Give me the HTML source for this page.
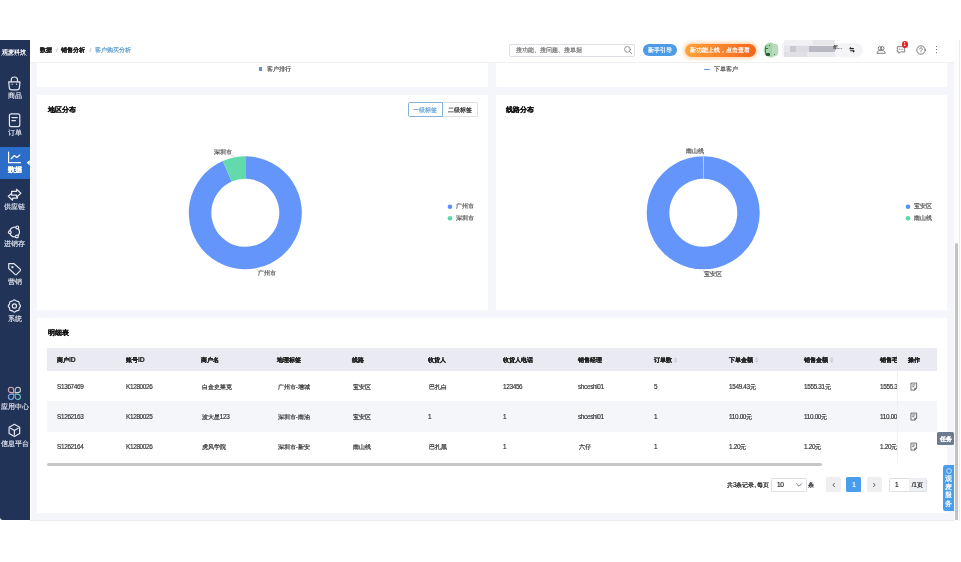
<!DOCTYPE html>
<html lang="zh">
<head>
<meta charset="utf-8">
<title>客户购买分析</title>
<style>
*{box-sizing:border-box;margin:0;padding:0}
html,body{width:961px;height:562px;overflow:hidden;background:#fff}
body{font-family:"Liberation Sans",sans-serif;font-size:6.2px;color:#222;position:relative;line-height:1;will-change:transform;font-weight:500}
.abs{position:absolute}
.t{position:absolute;white-space:nowrap;line-height:8px;height:8px;-webkit-text-stroke:.2px}
.n{font-size:1.05em;letter-spacing:-.33px;-webkit-text-stroke:.16px}
.h .n{font-size:1.16em;letter-spacing:-.15px;-webkit-text-stroke:.15px}
#side{position:absolute;left:0;top:40px;width:29.6px;height:480px;background:#223358;border-radius:0 0 0 3px;overflow:hidden}
#side .it{position:absolute;left:0;width:29.2px;text-align:center;-webkit-text-stroke:.2px;color:#dadeea;font-size:6.8px;line-height:8px;white-space:nowrap}
#side svg{position:absolute;left:0;top:0;width:29.6px;height:480px;fill:none;stroke:#e3e6f0;stroke-width:1.2;stroke-linecap:round;stroke-linejoin:round}
#side .act{position:absolute;left:0;top:106.8px;width:30px;height:32.2px;background:#2b6dc8}
#side .notch{position:absolute;left:24.2px;top:120px;width:0;height:0;border:2.7px solid transparent;border-right-color:#fff}
#top{position:absolute;left:29.6px;top:40px;width:924px;height:22.6px;background:#fff;border-bottom:.8px solid #eff0f4}
#main{position:absolute;left:30px;top:62.6px;width:923.5px;height:457.8px;background:#f5f6fb}
.panel{position:absolute;background:#fff}
</style>
</head>
<body>
<div id="side">
<div class="it" style="top:7.9px;color:#fff;font-weight:bold;font-size:6.2px;width:28.6px;-webkit-text-stroke:0">观麦科技</div>
<div class="abs" style="left:1.2px;top:14.9px;width:25.4px;height:1.1px;background:repeating-linear-gradient(90deg,#aeb6cb 0 1.4px,transparent 1.4px 2.1px);opacity:.6"></div>
<div class="act"></div>
<svg viewBox="0 0 29.6 480">
<path d="M8.7 41.800H20L19.400 47.600a2.300 2.300 0 0 1-2.300 2.200H11.600a2.300 2.300 0 0 1-2.300-2.200z"/><path d="M11.200 41.800V40.100a3.150 3.150 0 0 1 6.300 0V41.800"/><path d="M12.200 44v.3M16.500 44v.3"/>
<rect x="9.400" y="73.900" width="10.400" height="12.700" rx="1.900"/><path d="M11.900 77.500H17.300M11.900 80.600H15.400"/>
<path d="M29.7 119.900L26.800 122.700L29.700 125.500z" fill="#fff" stroke="none"/>
<g stroke="#fff"><path d="M8.600 112.100V122.700H20.500"/><path d="M11.200 118.700L14.300 115.500L16.800 117.400L19.900 115"/></g>
<path d="M12.600 152.500L8.300 156.300L12.600 160.200V158.200H17.400V154.400H12.600z"/>
<path d="M16.500 149.300L20.900 153.200L16.500 157.100V155.100H11.600V151.300H16.500z" fill="#223358"/>
<circle cx="14.600" cy="192" r="4.900"/><circle cx="17.300" cy="187.400" r="1.400" fill="#223358"/><circle cx="9.800" cy="192.300" r="1.400" fill="#223358"/><circle cx="16.900" cy="196.500" r="1.400" fill="#223358"/>
<path d="M8.700 223.700H14.100L20.200 229.100a1.100 1.100 0 0 1 .1 1.500L16.600 234.300a1.100 1.100 0 0 1-1.500 .1L8.700 228.500z"/><circle cx="12.400" cy="227.200" r=".55"/>
<path d="M13.44 260.39Q14.40 259.40 15.36 260.39Q16.31 261.38 17.69 261.36Q19.07 261.33 19.04 262.71Q19.02 264.09 20.01 265.04Q21.00 266.00 20.01 266.96Q19.02 267.91 19.04 269.29Q19.07 270.67 17.69 270.64Q16.31 270.62 15.36 271.61Q14.40 272.60 13.44 271.61Q12.49 270.62 11.11 270.64Q9.73 270.67 9.76 269.29Q9.78 267.91 8.79 266.96Q7.80 266.00 8.79 265.04Q9.78 264.09 9.76 262.71Q9.73 261.33 11.11 261.36Q12.49 261.38 13.44 260.39Z"/><circle cx="14.400" cy="266" r="2.100"/>
<g stroke-width="1.050"><path d="M13.65 352.65H11.00A2.65 2.65 0 1 1 13.65 350.00Z" stroke="#d9a3ad"/><path d="M15.15 352.65H17.80A2.65 2.65 0 1 0 15.15 350.00Z" stroke="#cfcfd6"/><path d="M13.65 354.15H11.00A2.65 2.65 0 1 0 13.65 356.80Z" stroke="#7ea9e6"/><path d="M15.15 354.15H17.80A2.65 2.65 0 1 1 15.15 356.80Z" stroke="#6fc7c2"/></g>
<path d="M14.400 384.300L19.700 387.300V393.500L14.400 396.500L9.100 393.500V387.300z"/><path d="M10.600 388.200L14.400 390.500L18.200 388.200M14.400 390.500V395"/>
</svg>
<div class="it" style="top:52px;">商品</div>
<div class="it" style="top:89.2px;">订单</div>
<div class="it" style="top:126.1px;color:#fff;font-weight:bold;">数据</div>
<div class="it" style="top:163.2px;">供应链</div>
<div class="it" style="top:200.3px;">进销存</div>
<div class="it" style="top:237.5px;">营销</div>
<div class="it" style="top:274.9px;">系统</div>
<div class="it" style="top:362.7px;">应用中心</div>
<div class="it" style="top:399.5px;">信息平台</div>
</div>
<div id="top">
  <div class="t" style="left:10.4px;top:6px;font-size:6.15px;color:#222"><b>数据</b><span style="color:#bbb;margin:0 2.2px"> / </span><b>销售分析</b><span style="color:#bbb;margin:0 2.2px"> / </span><span style="color:#5b9bd0">客户购买分析</span></div>
  <div class="abs" style="left:479.8px;top:3.5px;width:126px;height:13px;border:1px solid #dcdfe6;border-radius:2px;background:#fff"></div>
  <div class="t" style="left:486px;top:6px;font-size:6.2px;color:#777">搜功能、搜问题、搜单据</div>
  <svg class="abs" style="left:593px;top:5px;width:10px;height:10px" viewBox="0 0 10 10" fill="none" stroke="#888" stroke-width=".9" stroke-linecap="round"><circle cx="4.400" cy="4.400" r="2.900"/><path d="M6.600 6.600L8.800 8.800"/></svg>
  <div class="abs" style="left:613.2px;top:4px;width:34.500px;height:12px;border-radius:6px;background:#4b9be6"></div>
  <div class="t" style="left:613.2px;top:6px;width:34.500px;text-align:center;font-size:6.200px;color:#fff">新手引导</div>
  <div class="abs" style="left:655.2px;top:3.500px;width:71px;height:13px;border-radius:6.500px;background:linear-gradient(90deg,#ffa23a,#f5651c);box-shadow:0 0 4px 1px rgba(255,150,50,.55)"></div>
  <div class="t" style="left:655.2px;top:6px;width:71px;text-align:center;font-size:6.200px;color:#fff">新功能上线，点击查看</div>
  <div class="abs" style="left:752.4px;top:3.00px;width:81.0px;height:14.20px;border-radius:2px 7px 7px 2px;background:#f4f4f7"></div>
  <div class="abs" style="left:754.4px;top:0.20px;width:51.0px;height:17.20px;background:#ededf1"></div>
  <div class="abs" style="left:754.4px;top:0.20px;width:29.0px;height:5.30px;background:#f1f1f4"></div>
  <div class="abs" style="left:783.4px;top:0.20px;width:22.0px;height:5.30px;background:#e7e7eb"></div>
  <div class="abs" style="left:754.4px;top:5.50px;width:6.0px;height:6.25px;background:#e6e6eb"></div>
  <div class="abs" style="left:760.4px;top:5.50px;width:6.3px;height:6.25px;background:#c9c9d0"></div>
  <div class="abs" style="left:766.7px;top:5.50px;width:12.5px;height:6.25px;background:#dcdce2"></div>
  <div class="abs" style="left:779.2px;top:5.50px;width:26.2px;height:6.25px;background:#b9b9c3"></div>
  <div class="abs" style="left:754.4px;top:11.75px;width:23.5px;height:5.65px;background:#e0e0e6"></div>
  <div class="abs" style="left:777.9px;top:11.75px;width:27.5px;height:5.65px;background:#ebebef"></div>
  <div class="abs" style="left:733.8px;top:2px;width:15.4px;height:16px;border-radius:8px;background:#e8f2e9;overflow:hidden"><div class="abs" style="left:1.0px;top:1.0px;width:13.0px;height:14.0px;border-radius:7px;background:#a3d5a7"></div><div class="abs" style="left:1.2px;top:2.5px;width:3.9px;height:11.5px;border-radius:4px 0 0 4px;border-left:1.2px solid #3f8a55"></div><div class="abs" style="left:2.1px;top:5.8px;width:2.1px;height:0.9px;background:#2d7444"></div><div class="abs" style="left:1.6px;top:8.8px;width:1.4px;height:1.1px;background:#2d7444"></div><div class="abs" style="left:3.1px;top:11.0px;width:3.2px;height:2.6px;background:#245c38;border-radius:1px"></div><div class="abs" style="left:5.4px;top:3.0px;width:1.3px;height:0.9px;background:#2d7444"></div><div class="abs" style="left:8.4px;top:2.0px;width:6.7px;height:12.4px;background:#b9d9bc"></div><div class="abs" style="left:10.6px;top:11.8px;width:0.8px;height:0.8px;background:#3f7a4e"></div></div>
  <div class="t" style="left:803.500px;top:4.500px;font-size:4.600px;color:#444;line-height:6px;height:6px">年...</div>
  <svg class="abs" style="left:819.6px;top:7.2px;width:6px;height:5.400px" viewBox="0 0 6.600 6" fill="none" stroke="#222" stroke-width="1.150"><path d="M.6 1.800H5.400M.6 1.800L2.200 .4M6 4.200H1.200M6 4.200L4.400 5.600"/></svg>
  <svg class="abs" style="left:846.6px;top:5px;width:10px;height:10px" viewBox="0 0 10 10" fill="none" stroke="#555" stroke-width=".75"><circle cx="3.900" cy="3.300" r="1.700"/><circle cx="6.300" cy="3.300" r="1.700"/><path d="M1 8.300c.1-1.800 1.200-2.700 2.800-2.800 .6 0 1 .2 1.300.4 .3-.2.700-.4 1.300-.4 1.600.1 2.700 1 2.800 2.800z"/></svg>
  <svg class="abs" style="left:866.600px;top:5.200px;width:10px;height:10px" viewBox="0 0 10 10" fill="none" stroke="#555" stroke-width=".75" stroke-linejoin="round"><path d="M1.300 1.700h7.400v5.200H4.400L3 8.300V6.900H1.300z"/><path d="M3.300 4.300h.3M4.900 4.300h.3M6.500 4.300h.3" stroke-linecap="round"/></svg>
  <div class="abs" style="left:872px;top:1.300px;width:6.400px;height:6.400px;border-radius:3.200px;background:#dc2626"></div>
  <div class="abs" style="left:872px;top:2.100px;width:6.400px;text-align:center;font-size:4.600px;line-height:5px;color:#fff">1</div>
  <svg class="abs" style="left:886.800px;top:4.800px;width:10px;height:10px" viewBox="0 0 10 10" fill="none" stroke="#555" stroke-width=".75" stroke-linecap="round"><circle cx="5" cy="5" r="4.200"/><path d="M3.700 4a1.300 1.300 0 1 1 2 1.100c-.5.300-.7.600-.7 1.200"/><circle cx="5" cy="7.500" r=".3" fill="#555" stroke="none"/></svg>
  <div class="abs" style="left:906.200px;top:5.800px;width:1.400px;height:1.400px;border-radius:1px;background:#333;box-shadow:0 3.100px 0 #333,0 6.200px 0 #333"></div>
</div>
<div id="main">
<div class="abs" style="left:0;top:0;width:1.2px;height:457.8px;background:#fff"></div>
<div class="panel" style="left:7.4px;top:0.2px;width:450.7px;height:23.9px"></div>
<div class="panel" style="left:466px;top:0.2px;width:450.9px;height:23.9px"></div>
<div class="panel" style="left:7.4px;top:32.2px;width:450.7px;height:215.6px"></div>
<div class="panel" style="left:466px;top:32.2px;width:450.9px;height:215.6px"></div>
<div class="panel" style="left:7.4px;top:255.6px;width:909.5px;height:194.6px"></div>
<div class="abs" style="left:228.5px;top:4.9px;width:3.5px;height:3.5px;background:#5b8fd9"></div>
<div class="t" style="left:236.5px;top:2.8px;font-size:6.2px;color:#555;">客户排行</div>
<div class="abs" style="left:674px;top:6.4px;width:6px;height:1.2px;background:#6f97e0"></div>
<div class="t" style="left:684px;top:2.8px;font-size:6.2px;color:#555;">下单客户</div>
<div class="t" style="left:17.9px;top:43.8px;font-size:6.7px;color:#111;font-weight:bold;">地区分布</div>
<div class="t" style="left:475.9px;top:43.8px;font-size:6.7px;color:#111;font-weight:bold;">线路分布</div>
<div class="abs" style="left:412px;top:39.8px;width:35.8px;height:15px;border:1px solid #dcdfe6;border-left:none;border-radius:0 1.5px 1.5px 0;background:#fff"></div>
<div class="abs" style="left:377.6px;top:39.8px;width:35px;height:15px;border:1px solid #86b2d9;border-radius:1.5px 0 0 1.5px;background:#fff"></div>
<div class="t" style="left:377.6px;top:43.5px;font-size:6.1px;color:#69a6dd;width:35px;text-align:center;">一级标签</div>
<div class="t" style="left:412.6px;top:43.5px;font-size:6.1px;color:#222;width:35.2px;text-align:center;">二级标签</div>
<svg class="abs" style="left:0;top:0;width:923.5px;height:457.8px" viewBox="30 62.6 923.5 457.8"><path d="M245.30 155.90A56.5 56.5 0 1 1 222.77 160.59L231.74 181.22A34 34 0 1 0 245.30 178.40Z" fill="#6395fa"/><path d="M222.77 160.59A56.5 56.5 0 0 1 245.30 155.90L245.30 178.40A34 34 0 0 0 231.74 181.22Z" fill="#62daab"/><path d="M703.50 155.90A56.5 56.5 0 1 1 702.91 155.90L703.14 178.40A34 34 0 1 0 703.50 178.40Z" fill="#6395fa"/><path d="M702.91 155.90A56.5 56.5 0 0 1 703.50 155.90L703.50 178.40A34 34 0 0 0 703.14 178.40Z" fill="#8fe3c4"/>
<path d="M233.5 157.2L233.8 155.500H231" stroke="#bbb" stroke-width=".5" fill="none"/>
<path d="M257 268.600L257.300 270.500H259" stroke="#bbb" stroke-width=".5" fill="none"/>
<path d="M703.300 156V152" stroke="#bbb" stroke-width=".5" fill="none"/>
<path d="M703.600 269.800V272" stroke="#bbb" stroke-width=".5" fill="none"/>
<circle cx="450" cy="206.300" r="2.3" fill="#5b8ff9"/><circle cx="450" cy="217.800" r="2.3" fill="#5ad8a6"/>
<circle cx="908" cy="206.300" r="2.3" fill="#5b8ff9"/><circle cx="908" cy="217.800" r="2.3" fill="#5ad8a6"/>
</svg>
<div class="t" style="left:184px;top:85.4px;font-size:6px;color:#555;">深圳市</div>
<div class="t" style="left:227.5px;top:206.8px;font-size:6px;color:#555;">广州市</div>
<div class="t" style="left:426px;top:139.7px;font-size:6.2px;color:#555;">广州市</div>
<div class="t" style="left:426px;top:151.2px;font-size:6.2px;color:#555;">深圳市</div>
<div class="t" style="left:655.5px;top:84.2px;font-size:6px;color:#555;">南山线</div>
<div class="t" style="left:673.7px;top:207.8px;font-size:6px;color:#555;">宝安区</div>
<div class="t" style="left:884px;top:139.7px;font-size:6.2px;color:#555;">宝安区</div>
<div class="t" style="left:884px;top:151.2px;font-size:6.2px;color:#555;">南山线</div>
<div class="t" style="left:17.9px;top:266.4px;font-size:6.7px;color:#111;font-weight:bold;">明细表</div>
<div class="abs" style="left:17px;top:285.6px;width:850px;height:114px;overflow:hidden">
<div class="abs" style="left:0;top:0;width:900px;height:22.8px;background:#e9eaf2"></div>
<div class="abs" style="left:0;top:52.8px;width:900px;height:30.8px;background:#f5f6fa"></div>
<div class="t h" style="left:10px;top:7.5px;font-size:5.9px;font-weight:bold;color:#222">商户<span class="n">ID</span></div>
<div class="t h" style="left:79px;top:7.5px;font-size:5.9px;font-weight:bold;color:#222">账号<span class="n">ID</span></div>
<div class="t h" style="left:154px;top:7.5px;font-size:5.9px;font-weight:bold;color:#222">商户名</div>
<div class="t h" style="left:230px;top:7.5px;font-size:5.9px;font-weight:bold;color:#222">地理标签</div>
<div class="t h" style="left:305px;top:7.5px;font-size:5.9px;font-weight:bold;color:#222">线路</div>
<div class="t h" style="left:381px;top:7.5px;font-size:5.9px;font-weight:bold;color:#222">收货人</div>
<div class="t h" style="left:456px;top:7.5px;font-size:5.9px;font-weight:bold;color:#222">收货人电话</div>
<div class="t h" style="left:531px;top:7.5px;font-size:5.9px;font-weight:bold;color:#222">销售经理</div>
<div class="t h" style="left:607px;top:7.5px;font-size:5.9px;font-weight:bold;color:#222">订单数<svg style="display:inline-block;vertical-align:top;margin-left:2.2px;width:3.4px;height:8px" viewBox="0 0 3.4 8" fill="#c1c4cd"><path d="M1.700 1.200L3.300 3.400H.1zM1.700 6.800L3.300 4.600H.1z"/></svg></div>
<div class="t h" style="left:682px;top:7.5px;font-size:5.9px;font-weight:bold;color:#222">下单金额<svg style="display:inline-block;vertical-align:top;margin-left:2.2px;width:3.4px;height:8px" viewBox="0 0 3.4 8" fill="#c1c4cd"><path d="M1.700 1.200L3.300 3.400H.1zM1.700 6.800L3.300 4.600H.1z"/></svg></div>
<div class="t h" style="left:757px;top:7.5px;font-size:5.9px;font-weight:bold;color:#222">销售金额<svg style="display:inline-block;vertical-align:top;margin-left:2.2px;width:3.4px;height:8px" viewBox="0 0 3.4 8" fill="#c1c4cd"><path d="M1.700 1.200L3.300 3.400H.1zM1.700 6.800L3.300 4.600H.1z"/></svg></div>
<div class="t h" style="left:833px;top:7.5px;font-size:5.9px;font-weight:bold;color:#222">销售毛利</div>
<div class="t" style="left:10px;top:34.8px;font-size:6.1px;color:#333"><span class="n">S1367469</span></div>
<div class="t" style="left:79px;top:34.8px;font-size:6.1px;color:#333"><span class="n">K1280026</span></div>
<div class="t" style="left:154.8px;top:34.8px;font-size:6.1px;color:#333">白金史莱克</div>
<div class="t" style="left:230.8px;top:34.8px;font-size:6.1px;color:#333">广州市<span class="n">-</span>增城</div>
<div class="t" style="left:305.8px;top:34.8px;font-size:6.1px;color:#333">宝安区</div>
<div class="t" style="left:381.8px;top:34.8px;font-size:6.1px;color:#333">巴扎白</div>
<div class="t" style="left:456px;top:34.8px;font-size:6.1px;color:#333"><span class="n">123456</span></div>
<div class="t" style="left:531px;top:34.8px;font-size:6.1px;color:#333"><span class="n">shceshi01</span></div>
<div class="t" style="left:607px;top:34.8px;font-size:6.1px;color:#333"><span class="n">5</span></div>
<div class="t" style="left:682px;top:34.8px;font-size:6.1px;color:#333"><span class="n">1549.43</span>元</div>
<div class="t" style="left:757px;top:34.8px;font-size:6.1px;color:#333"><span class="n">1555.31</span>元</div>
<div class="t" style="left:833px;top:34.8px;font-size:6.1px;color:#333"><span class="n">1555.31</span>元</div>
<div class="t" style="left:10px;top:64.8px;font-size:6.1px;color:#333"><span class="n">S1262163</span></div>
<div class="t" style="left:79px;top:64.8px;font-size:6.1px;color:#333"><span class="n">K1280025</span></div>
<div class="t" style="left:154.8px;top:64.8px;font-size:6.1px;color:#333">波大星<span class="n">123</span></div>
<div class="t" style="left:230.8px;top:64.8px;font-size:6.1px;color:#333">深圳市<span class="n">-</span>南油</div>
<div class="t" style="left:305.8px;top:64.8px;font-size:6.1px;color:#333">宝安区</div>
<div class="t" style="left:381px;top:64.8px;font-size:6.1px;color:#333"><span class="n">1</span></div>
<div class="t" style="left:456px;top:64.8px;font-size:6.1px;color:#333"><span class="n">1</span></div>
<div class="t" style="left:531px;top:64.8px;font-size:6.1px;color:#333"><span class="n">shceshi01</span></div>
<div class="t" style="left:607px;top:64.8px;font-size:6.1px;color:#333"><span class="n">1</span></div>
<div class="t" style="left:682px;top:64.8px;font-size:6.1px;color:#333"><span class="n">110.00</span>元</div>
<div class="t" style="left:757px;top:64.8px;font-size:6.1px;color:#333"><span class="n">110.00</span>元</div>
<div class="t" style="left:833px;top:64.8px;font-size:6.1px;color:#333"><span class="n">110.00</span>元</div>
<div class="t" style="left:10px;top:94.8px;font-size:6.1px;color:#333"><span class="n">S1262164</span></div>
<div class="t" style="left:79px;top:94.8px;font-size:6.1px;color:#333"><span class="n">K1280026</span></div>
<div class="t" style="left:154.8px;top:94.8px;font-size:6.1px;color:#333">虎风学院</div>
<div class="t" style="left:230.8px;top:94.8px;font-size:6.1px;color:#333">深圳市<span class="n">-</span>新安</div>
<div class="t" style="left:305.8px;top:94.8px;font-size:6.1px;color:#333">南山线</div>
<div class="t" style="left:381.8px;top:94.8px;font-size:6.1px;color:#333">巴扎黑</div>
<div class="t" style="left:456px;top:94.8px;font-size:6.1px;color:#333"><span class="n">1</span></div>
<div class="t" style="left:531.8px;top:94.8px;font-size:6.1px;color:#333">六仔</div>
<div class="t" style="left:607px;top:94.8px;font-size:6.1px;color:#333"><span class="n">1</span></div>
<div class="t" style="left:682px;top:94.8px;font-size:6.1px;color:#333"><span class="n">1.20</span>元</div>
<div class="t" style="left:757px;top:94.8px;font-size:6.1px;color:#333"><span class="n">1.20</span>元</div>
<div class="t" style="left:833px;top:94.8px;font-size:6.1px;color:#333"><span class="n">1.20</span>元</div>
</div>
<div class="abs" style="left:867px;top:285.6px;width:40px;height:22.8px;background:#e9eaf2"></div>
<div class="abs" style="left:867px;top:338.4px;width:40px;height:30.8px;background:#f5f6fa"></div>
<div class="abs" style="left:866.6px;top:308.4px;width:0.8px;height:91px;background:#eff0f4"></div>
<div class="t" style="left:878px;top:293.1px;font-size:5.9px;color:#222;font-weight:bold;">操作</div>
<svg class="abs" style="left:880px;top:319px;width:7.6px;height:9.2px" viewBox="0 0 8 9" fill="none" stroke="#444" stroke-width=".8" stroke-linejoin="round"><path d="M1 .8h6v5.400L5 8.200H1z"/><path d="M2.400 2.800h3.200M2.400 4.600h2"/><path d="M7 6.200H5v2"/></svg>
<svg class="abs" style="left:880px;top:349px;width:7.6px;height:9.2px" viewBox="0 0 8 9" fill="none" stroke="#444" stroke-width=".8" stroke-linejoin="round"><path d="M1 .8h6v5.400L5 8.200H1z"/><path d="M2.400 2.800h3.200M2.400 4.600h2"/><path d="M7 6.200H5v2"/></svg>
<svg class="abs" style="left:880px;top:379px;width:7.6px;height:9.2px" viewBox="0 0 8 9" fill="none" stroke="#444" stroke-width=".8" stroke-linejoin="round"><path d="M1 .8h6v5.400L5 8.200H1z"/><path d="M2.400 2.800h3.200M2.400 4.600h2"/><path d="M7 6.200H5v2"/></svg>
<div class="abs" style="left:17px;top:400.2px;width:775px;height:3.7px;border-radius:2px;background:#c6c6c6"></div>
<div class="t" style="left:697px;top:418.4px;font-size:6.2px;color:#222;">共<span class="n">3</span>条记录<span class="n">, </span>每页</div>
<div class="abs" style="left:741px;top:415.4px;width:35.5px;height:14px;border:1px solid #dcdfe6;border-radius:1.5px;background:#fff"></div>
<div class="t" style="left:747px;top:418.4px;font-size:6.2px;color:#222;"><span class="n">10</span></div>
<svg class="abs" style="left:765px;top:419.4px;width:8px;height:6px" viewBox="0 0 8 6" fill="none" stroke="#555" stroke-width=".8"><path d="M1.200 1.500L4 4.300L6.800 1.500"/></svg>
<div class="t" style="left:778px;top:418.4px;font-size:6.2px;color:#222;">条</div>
<div class="abs" style="left:796px;top:414.9px;width:15px;height:15px;border-radius:1.500px;background:#efeff1"></div>
<svg class="abs" style="left:800.5px;top:419.4px;width:6px;height:6px" viewBox="0 0 6 6" fill="none" stroke="#444" stroke-width=".8"><path d="M3.800 1L1.800 3l2 2"/></svg>
<div class="abs" style="left:816.3px;top:414.9px;width:15px;height:15px;border-radius:1.500px;background:#4a9ced"></div>

<div class="t" style="left:816.3px;top:418.4px;font-size:6.2px;color:#fff;width:15px;text-align:center;"><span class="n">1</span></div>
<div class="abs" style="left:836.5px;top:414.9px;width:15px;height:15px;border-radius:1.500px;background:#efeff1"></div>
<svg class="abs" style="left:841px;top:419.4px;width:6px;height:6px" viewBox="0 0 6 6" fill="none" stroke="#444" stroke-width=".8"><path d="M2.200 1l2 2-2 2"/></svg>
<div class="abs" style="left:859px;top:415.4px;width:37.5px;height:14px;border:1px solid #dcdfe6;border-radius:1.500px;background:#fff"></div>
<div class="abs" style="left:878.5px;top:415.9px;width:17.5px;height:13px;background:#eeeff2"></div>
<div class="t" style="left:865px;top:418.4px;font-size:6.2px;color:#222;"><span class="n">1</span></div>
<div class="t" style="left:878.5px;top:418.4px;font-size:6.2px;color:#222;width:17.5px;text-align:center;"><span class="n">/1</span>页</div>
<div class="abs" style="left:907.1px;top:369.6px;width:16.9px;height:12.9px;border-radius:1.500px;background:#6d7b8f"></div>
<div class="t" style="left:907.1px;top:372.2px;font-size:6px;color:#fff;width:16.9px;text-align:center;font-weight:bold;">任务</div>
<div class="abs" style="left:913px;top:402.5px;width:11px;height:45.5px;border-radius:2.500px 0 0 2.500px;background:#4a9ced"></div>
<svg class="abs" style="left:915.5px;top:405.6px;width:6px;height:6px" viewBox="0 0 6 6" fill="none" stroke="#fff" stroke-width=".65"><circle cx="3" cy="3" r="2.400"/></svg>
<div class="t" style="left:913px;top:412.7px;font-size:6.5px;color:#fff;width:11px;text-align:center;">观</div>
<div class="t" style="left:913px;top:420.8px;font-size:6.5px;color:#fff;width:11px;text-align:center;">麦</div>
<div class="t" style="left:913px;top:428.9px;font-size:6.5px;color:#fff;width:11px;text-align:center;">服</div>
<div class="t" style="left:913px;top:437px;font-size:6.5px;color:#fff;width:11px;text-align:center;">务</div>
</div>
<div class="abs" style="left:29.600px;top:520.2px;width:924px;height:1.3px;background:linear-gradient(#e2e2e4,#f4f4f5)"></div>
<div class="abs" style="left:953.500px;top:40px;width:7.500px;height:481px;background:#fdfdfd"></div>
<div class="abs" style="left:958.800px;top:40px;width:.600px;height:481px;background:#ececec"></div>
<div class="abs" style="left:954.600px;top:243px;width:3.800px;height:277px;border-radius:2px 2px 0 0;background:#c2c2c2"></div>
</body>
</html>
